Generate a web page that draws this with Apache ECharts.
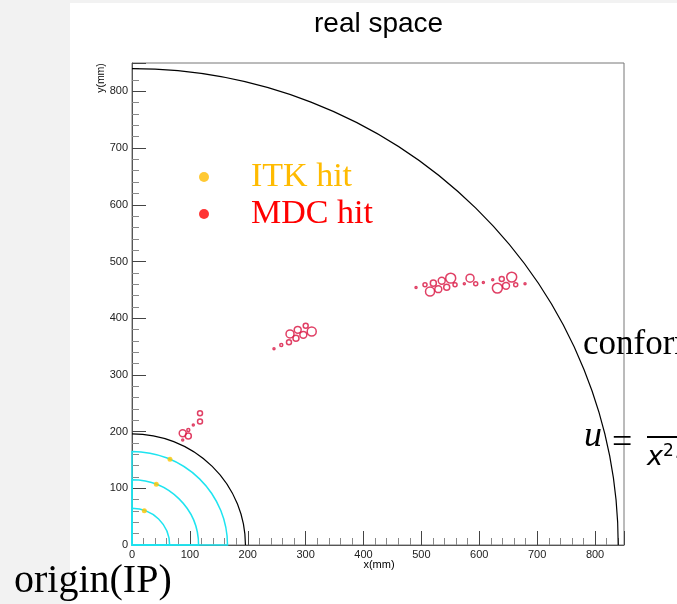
<!DOCTYPE html>
<html><head><meta charset="utf-8">
<script src="https://cdn.jsdelivr.net/npm/echarts@6/dist/echarts.min.js"></script>
<style>html,body{margin:0;padding:0;background:#f2f2f2}#c{width:677px;height:604px}</style>
</head><body><div id="c"></div>
<script>
// tick labels
const xTickLabels = [0,100,200,300,400,500,600,700,800];
const yTickLabels = [0,100,200,300,400,500,600,700,800];
// detector geometry (radii in mm)
const itkLayerRadius = [65,115,165];
const boundaryRadius = [196,840];
// ITK hits (mm)
const itkX = [21.3,42.0,65.6];
const itkY = [60.5,107.0,151.0];
// MDC hits (mm) and drift radius (mm)
const mdcX = [117.5,117.5,105.9,97.3,87.6,97.3,87.6,
  245.3,257.9,271.2,273.0,283.3,286.3,296.0,300.1,310.5,
  490.7,506.2,514.9,520.6,529.2,535.1,543.7,550.6,558.1,574.1,584.0,593.8,607.0,623.2,638.8,631.2,646.2,656.0,662.9,679.0];
const mdcY = [232.4,217.6,211.8,202.9,197.1,192.3,185.3,
  345.9,352.9,357.7,372.3,364.7,379.4,370.6,386.5,376.4,
  454.0,458.8,447.0,461.8,451.2,465.9,454.7,470.6,458.8,460.6,470.6,460.6,462.9,467.6,468.9,453.0,457.0,472.4,458.8,460.6];
const mdcR = [4.3,4.3,1.7,2.6,6.0,5.2,1.7,
  1.7,2.6,4.3,6.9,5.2,6.0,6.0,4.3,7.8,
  1.7,3.5,7.8,5.2,6.0,6.0,5.2,8.6,3.5,1.7,6.9,3.5,1.7,1.7,4.3,8.6,6.0,8.6,3.5,1.7];

const chart = echarts.init(document.getElementById('c'));
let k = 0.5788;

function arcPath(api, r, closed){
  const c = api.coord([0,0]);
  const rx = api.coord([r,0])[0] - c[0];
  const ry = c[1] - api.coord([0,r])[1];
  let d = 'M ' + c[0] + ' ' + (c[1]-ry) + ' A ' + rx + ' ' + ry + ' 0 0 1 ' + (c[0]+rx) + ' ' + c[1];
  if (closed) d = 'M ' + c[0] + ' ' + c[1] + ' L ' + c[0] + ' ' + (c[1]-ry) + ' A ' + rx + ' ' + ry + ' 0 0 1 ' + (c[0]+rx) + ' ' + c[1] + ' Z';
  return d;
}

function axisCfg(labels){
  return {
    type:'value', min:0, max:850, interval:100,
    axisLine:{show:true, onZero:false, lineStyle:{color:'#555', width:1}},
    axisTick:{show:true, inside:true, length:14, lineStyle:{color:'#444'}},
    minorTick:{show:true, splitNumber:5, length:7, lineStyle:{color:'#888'}},
    splitLine:{show:false}, minorSplitLine:{show:false},
    axisLabel:{show:true, margin:4, fontSize:11, color:'#222', fontFamily:'Liberation Sans',
      formatter: v => labels.includes(v) ? String(v) : ''}
  };
}

function buildOption(){
  return {
    backgroundColor:'#f2f2f2',
    animation:false,
    title:{text:'real space', left:309, top:5,
      textStyle:{fontFamily:'Liberation Sans', fontSize:28, fontWeight:'normal', color:'#000'}},
    grid:{left:132, top:63, width:492, height:482, show:true, borderColor:'#777', borderWidth:1, backgroundColor:'rgba(0,0,0,0)'},
    xAxis: axisCfg(xTickLabels),
    yAxis: axisCfg(yTickLabels),
    legend:{orient:'vertical', left:194, top:155, itemWidth:10, itemHeight:10, itemGap:3, icon:'circle',
      textStyle:{fontFamily:'Liberation Serif', fontSize:34, padding:[0,0,0,37]},
      data:[
        {name:'ITK hit', itemStyle:{color:'#ffbb00', borderWidth:0}, textStyle:{color:'#ffbb00'}},
        {name:'MDC hit', itemStyle:{color:'#ff0000', borderWidth:0}, textStyle:{color:'#ff0000'}}
      ]},
    graphic:[
      {type:'rect', z:-10, shape:{x:70, y:3, width:607, height:601}, style:{fill:'#fff'}, silent:true},
      {type:'text', x:101, y:78, rotation:Math.PI/2, style:{text:'y(mm)', fontSize:10.5, fontFamily:'Liberation Sans', fill:'#000', align:'center', verticalAlign:'middle'}},
      {type:'text', x:379, y:565, style:{text:'x(mm)', fontSize:11, fontFamily:'Liberation Sans', fill:'#000', align:'center', verticalAlign:'middle'}},
      {type:'text', x:14, y:581, style:{text:'origin(IP)', fontSize:40, fontFamily:'Liberation Serif', fill:'#000', align:'left', verticalAlign:'middle'}},
      {type:'text', x:583, y:345, style:{text:'conformal space', fontSize:35, fontFamily:'Liberation Serif', fill:'#000', align:'left', verticalAlign:'middle'}},
      {type:'text', x:584, y:437, style:{text:'u', fontSize:36, fontStyle:'italic', fontFamily:'Liberation Serif', fill:'#000', align:'left', verticalAlign:'middle'}},
      {type:'text', x:612, y:444, style:{text:'=', fontSize:36, fontFamily:'Liberation Serif', fill:'#000', align:'left', verticalAlign:'middle'}},
      {type:'rect', shape:{x:647, y:436, width:60, height:2}, style:{fill:'#000'}},
      {type:'text', x:647, y:458, style:{text:'{a|x}{b|2}{a|+y}{b|2}', fill:'#000', align:'left', verticalAlign:'middle',
        rich:{a:{fontSize:27, fontStyle:'italic', fontFamily:'DejaVu Sans'}, b:{fontSize:17, fontFamily:'DejaVu Sans', verticalAlign:'top', padding:[0,0,12,0]}}}}
    ],
    series:[
      {type:'custom', silent:true, clip:false, data: itkLayerRadius.map(r=>[r,0]),
        renderItem:(p, api)=>({type:'path', shape:{pathData: arcPath(api, api.value(0), true)},
          style:{fill:'none', stroke:'#1ee4f0', lineWidth:1.5}})},
      {type:'custom', silent:true, clip:false, data: boundaryRadius.map(r=>[r,0]),
        renderItem:(p, api)=>({type:'path', shape:{pathData: arcPath(api, api.value(0), false)},
          style:{fill:'none', stroke:'#000', lineWidth:1.2}})},
      {type:'scatter', name:'ITK hit', data: itkX.map((x,i)=>[x, itkY[i]]), symbol:'circle', symbolSize:5,
        itemStyle:{color:'#ffc400'}, z:5},
      {type:'scatter', name:'MDC hit', data: mdcX.map((x,i)=>[x, mdcY[i], mdcR[i]]), symbol:'circle',
        symbolSize: v => Math.max(2, 2*v[2]*k),
        itemStyle:{color:'rgba(0,0,0,0)', borderColor:'#d8103f', borderWidth:1.5}, z:4}
    ]
  };
}
chart.setOption(buildOption());
const p0 = chart.convertToPixel({gridIndex:0},[0,0]);
const p1 = chart.convertToPixel({gridIndex:0},[100,0]);
k = (p1[0]-p0[0])/100;
chart.setOption(buildOption(), true);
</script></body></html>
